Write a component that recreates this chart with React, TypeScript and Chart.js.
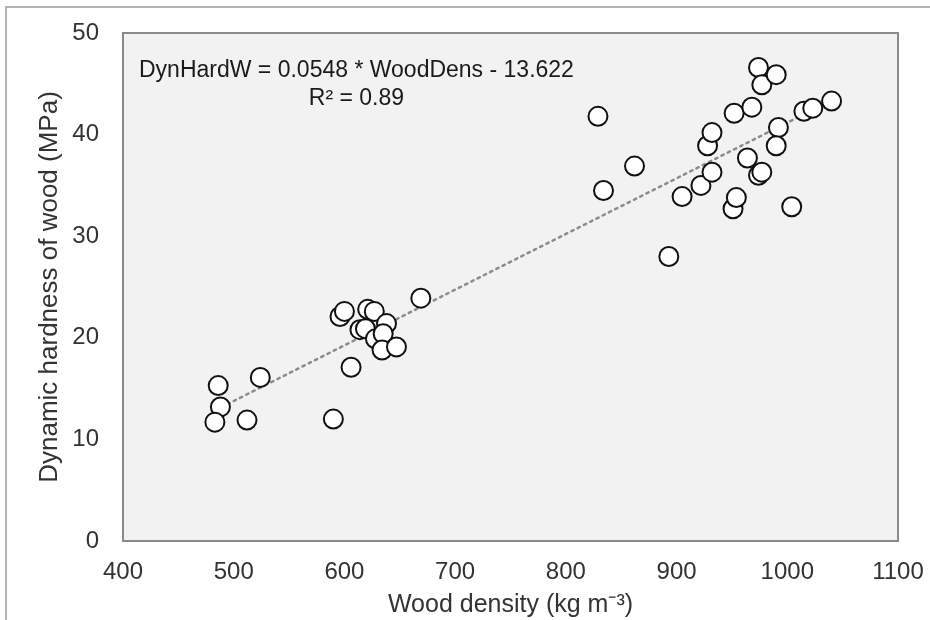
import { useEffect, useRef } from 'react';
import { Chart, registerables } from 'chart.js';

Chart.register(...registerables);

// Wood density (kg m-3) and dynamic hardness (MPa) of the measured samples
const woodDensity = [
  486, 488, 483, 512, 524,
  590, 606, 596, 600, 614, 619, 621, 627, 628, 638, 635, 634, 647, 669,
  829, 834, 862, 893, 905, 922, 928, 932, 932, 951, 954, 952, 968, 964,
  974, 977, 974, 977, 990, 992, 990, 1004, 1015, 1023, 1040,
];
const dynHardness = [
  15.3, 13.2, 11.7, 11.9, 16.1,
  12.0, 17.1, 22.1, 22.6, 20.8, 20.9, 22.8, 22.6, 19.9, 21.4, 20.4, 18.8, 19.1, 23.9,
  41.8, 34.5, 36.9, 28.0, 33.9, 35.0, 38.9, 40.2, 36.3, 32.7, 33.8, 42.1, 42.7, 37.7,
  36.0, 36.3, 46.6, 44.9, 45.9, 40.7, 38.9, 32.9, 42.3, 42.6, 43.3,
];

// Linear fit reported on the chart
const fitSlope = 0.0548;
const fitIntercept = -13.622;
const fitR2 = 0.89;

const xTicks = [400, 500, 600, 700, 800, 900, 1000, 1100];
const yTicks = [0, 10, 20, 30, 40, 50];

const FONT = "'Liberation Sans', Arial, sans-serif";
const TEXT = '#333333';

const framePlugin = {
  id: 'frame',
  beforeDraw(chart: any) {
    const { ctx, width, height, chartArea: a } = chart;
    ctx.save();
    ctx.fillStyle = '#ffffff';
    ctx.fillRect(0, 0, width, height);
    // outer chart border (top and left edges visible)
    ctx.strokeStyle = '#9a9a9a';
    ctx.lineWidth = 1.5;
    ctx.beginPath();
    ctx.moveTo(6, height);
    ctx.lineTo(6, 7);
    ctx.lineTo(width, 7);
    ctx.stroke();
    // plot area
    ctx.fillStyle = '#f2f2f2';
    ctx.fillRect(a.left, a.top, a.right - a.left, a.bottom - a.top);
    ctx.restore();
  },
  beforeDatasetsDraw(chart: any) {
    const { ctx, chartArea: a } = chart;
    ctx.save();
    ctx.strokeStyle = '#8a8a8a';
    ctx.lineWidth = 2;
    ctx.strokeRect(a.left, a.top, a.right - a.left, a.bottom - a.top);
    ctx.restore();
  },
};

const equationPlugin = {
  id: 'equation',
  afterDraw(chart: any) {
    const { ctx, chartArea: a } = chart;
    ctx.save();
    ctx.fillStyle = '#1a1a1a';
    ctx.font = `23px ${FONT}`;
    ctx.textAlign = 'center';
    ctx.textBaseline = 'middle';
    const line1 = `DynHardW = ${fitSlope} * WoodDens - ${Math.abs(fitIntercept)}`;
    const w = ctx.measureText(line1).width;
    const cx = a.left + 16 + w / 2;
    ctx.fillText(line1, cx, a.top + 38);
    ctx.fillText(`R² = ${fitR2}`, cx, a.top + 66);
    ctx.restore();
  },
};

export default function App() {
  const canvasRef = useRef<HTMLCanvasElement | null>(null);

  useEffect(() => {
    const canvas = canvasRef.current;
    if (!canvas) return;
    const points = woodDensity.map((x, i) => ({ x, y: dynHardness[i] }));
    const minX = Math.min(...woodDensity);
    const maxX = Math.max(...woodDensity);
    const fitLine = [minX, maxX].map((x) => ({ x, y: fitSlope * x + fitIntercept }));

    const chart = new Chart(canvas, {
      type: 'scatter',
      data: {
        datasets: [
          {
            type: 'line',
            label: 'Linear fit',
            data: fitLine,
            borderColor: '#8c8c8c',
            borderWidth: 2.5,
            borderDash: [2.5, 4.5],
            borderCapStyle: 'round',
            pointRadius: 0,
            fill: false,
            order: 2,
          } as any,
          {
            label: 'Samples',
            data: points,
            pointRadius: 9.5,
            pointBorderWidth: 2,
            pointBackgroundColor: '#ffffff',
            pointBorderColor: '#111111',
            order: 1,
          },
        ],
      },
      options: {
        animation: false,
        responsive: false,
        maintainAspectRatio: false,
        layout: { padding: { left: 0, top: 33, right: 32, bottom: 0 } },
        plugins: {
          legend: { display: false },
          tooltip: { enabled: false },
        },
        scales: {
          x: {
            type: 'linear',
            min: xTicks[0],
            max: xTicks[xTicks.length - 1],
            afterBuildTicks: (s: any) => {
              s.ticks = xTicks.map((v) => ({ value: v }));
            },
            afterFit: (s: any) => {
              s.height = 79;
              s.paddingLeft = 0;
              s.paddingRight = 0;
            },
            grid: { display: false, drawTicks: false },
            border: { display: false },
            ticks: {
              padding: 17,
              color: TEXT,
              font: { family: FONT, size: 24 },
              maxRotation: 0,
              callback: (v: any) => String(v),
            },
            title: {
              display: true,
              text: 'Wood density (kg m⁻³)',
              color: TEXT,
              font: { family: FONT, size: 25 },
              padding: { top: 0, bottom: 0 },
            },
          },
          y: {
            type: 'linear',
            min: yTicks[0],
            max: yTicks[yTicks.length - 1],
            afterBuildTicks: (s: any) => {
              s.ticks = yTicks.map((v) => ({ value: v }));
            },
            afterFit: (s: any) => {
              s.width = 123;
              s.paddingTop = 0;
              s.paddingBottom = 0;
            },
            grid: { display: false, drawTicks: false },
            border: { display: false },
            ticks: {
              padding: 24,
              color: TEXT,
              font: { family: FONT, size: 24 },
              callback: (v: any) => String(v),
            },
            title: {
              display: true,
              text: 'Dynamic hardness of wood (MPa)',
              color: TEXT,
              font: { family: FONT, size: 26 },
              padding: { top: 34, bottom: 0 },
            },
          },
        },
      },
      plugins: [framePlugin, equationPlugin],
    });

    return () => chart.destroy();
  }, []);

  return (
    <div style={{ position: 'fixed', left: 0, top: 0, width: 930, height: 620 }}>
      <canvas ref={canvasRef} width={930} height={620} style={{ display: 'block' }} />
    </div>
  );
}
